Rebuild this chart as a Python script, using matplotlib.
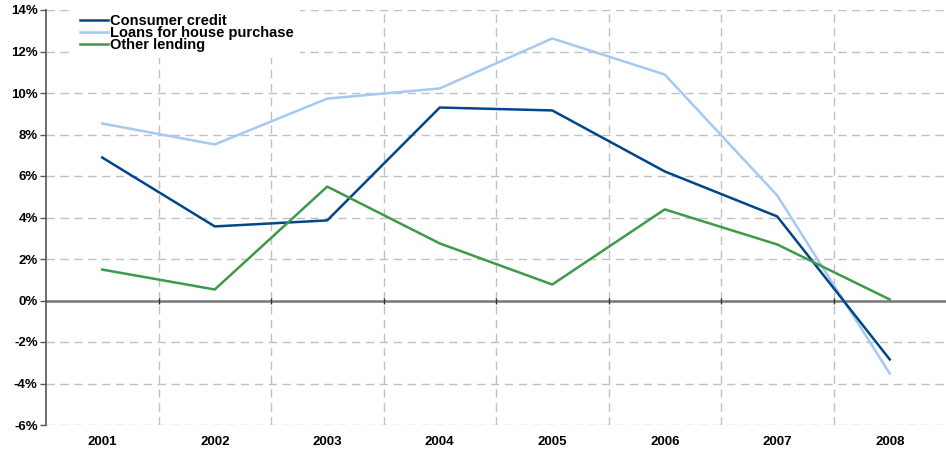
import numpy as np
import matplotlib.pyplot as plt

plt.rcParams['font.family'] = ['Liberation Sans', 'DejaVu Sans']

years = ["2001", "2002", "2003", "2004", "2005", "2006", "2007", "2008"]
consumer_credit = [6.89, 3.57, 3.86, 9.30, 9.16, 6.22, 4.05, -2.84]
house_loans = [8.53, 7.52, 9.73, 10.22, 12.63, 10.89, 5.06, -3.52]
other_lending = [1.49, 0.53, 5.49, 2.75, 0.77, 4.39, 2.70, 0.05]
y_ticks = [-6, -4, -2, 0, 2, 4, 6, 8, 10, 12, 14]

fig = plt.figure(figsize=(9.46, 4.49), dpi=100)
ax = fig.add_axes([46 / 946, 24 / 449, 900 / 946, 415 / 449])

x = np.arange(len(years))
grid_kw = dict(color="#c0c0c0", lw=1, ls=(0, (6, 4)), zorder=0)
for yt in y_ticks:
    if yt != 0:
        ax.axhline(yt, **grid_kw)
for b in x[:-1] + 0.5:
    ax.axvline(b, **grid_kw)
ax.axhline(0, color="#777777", lw=1.8, zorder=1)
ax.plot(x[:-1] + 0.5, np.zeros(len(x) - 1), ls="none", marker="|", ms=4,
        color="#333333", zorder=1)

ax.plot(x, consumer_credit, color="#00468b", lw=1.8, label="Consumer credit", zorder=3)
ax.plot(x, house_loans, color="#a5c9ef", lw=1.8, label="Loans for house purchase", zorder=2)
ax.plot(x, other_lending, color="#3d9a4a", lw=1.8, label="Other lending", zorder=3)

ax.set_xlim(-0.5, 7.5)
ax.set_ylim(-6, 14)
ax.set_yticks(y_ticks)
ax.set_yticklabels([f"{v}%" for v in y_ticks], fontsize=9.5, fontweight="bold")
ax.set_xticks(x)
ax.set_xticklabels(years, fontsize=9.5, fontweight="bold")
ax.tick_params(axis="x", length=0, pad=8)
ax.tick_params(axis="y", length=4, width=1, color="#555555", pad=2)

for s in ["top", "right", "bottom"]:
    ax.spines[s].set_visible(False)
ax.spines["left"].set_color("#555555")
ax.spines["left"].set_linewidth(1.2)

leg = ax.legend(loc="upper left", bbox_to_anchor=(28 / 900, 1.0 + 2 / 415), frameon=True,
                facecolor="white", edgecolor="none", framealpha=1, fancybox=False,
                prop={"weight": "bold", "size": 10.5}, handlelength=1.95,
                handletextpad=0.12, labelspacing=-0.12, borderpad=0.4,
                borderaxespad=0)
leg.set_zorder(5)

fig.savefig("out.png", dpi=100)
